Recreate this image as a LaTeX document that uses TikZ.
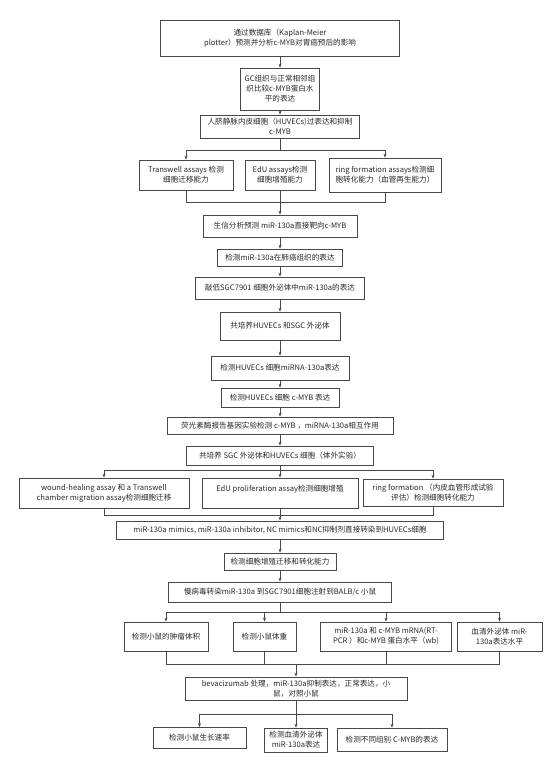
\documentclass[tikz,border=0pt]{standalone}
\usepackage{fontspec}
\setmainfont{Noto Sans CJK SC}
\usepackage{tikz}
\usetikzlibrary{arrows.meta,positioning,calc}
\definecolor{lnGray}{RGB}{72,72,72}
\definecolor{txtGray}{RGB}{40,40,40}

\begin{document}
\begin{tikzpicture}[x=1pt,y=-1pt,
  blk/.style={draw=lnGray,line width=0.7pt,inner sep=0pt,align=center,
              text=txtGray,font=\fontsize{7.6}{10}\selectfont},
  sz/.style 2 args={minimum width=#1pt,minimum height=#2pt},
  arr/.style={-{Stealth[length=4pt,width=3pt]},lnGray,line width=0.6pt},
  ln/.style={lnGray,line width=0.6pt},
]
\useasboundingbox (0,0) rectangle (554,764);
% upper column
\node[blk,sz={239}{36}] (kmp) at (280,38) {通过数据库（Kaplan-Meier\\plotter）预测并分析c-MYB对胃癌预后的影响};
\node[blk,sz={79}{42}] (gc) at (280,89) {GC组织与正常相邻组\\织比较c-MYB蛋白水\\平的表达};
\node[blk,sz={159}{23}] (huv) at (280,126.5) {人脐静脉内皮细胞（HUVECs)过表达和抑制\\c-MYB};
\node[blk,sz={94}{30}] (trans) at (186,175) {Transwell assays 检测\\细胞迁移能力};
\node[blk,sz={70}{30}] (edu) at (280,175) {EdU assays检测\\细胞增殖能力};
\node[blk,sz={112}{34}] (ring) at (385,175) {ring formation assays检测细\\胞转化能力（血管再生能力）};
\node[blk,sz={154}{22}] (bio) at (280,226) {生信分析预测 miR-130a直接靶向c-MYB};
\node[blk,sz={125}{17}] (det) at (280,257.5) {检测miR-130a在肺癌组织的表达};
\node[blk,sz={169}{22}] (knock) at (280,288) {敲低SGC7901 细胞外泌体中miR-130a的表达};
\node[blk,sz={120}{28}] (cocult) at (280,326) {共培养HUVECs 和SGC 外泌体};
\node[blk,sz={138}{24}] (mirna) at (280,368) {检测HUVECs 细胞miRNA-130a表达};
\node[blk,sz={118}{19}] (cmyb) at (280,397.5) {检测HUVECs 细胞 c-MYB 表达};
\node[blk,sz={226}{17}] (luc) at (280,425.5) {荧光素酶报告基因实验检测 c-MYB ，miRNA-130a相互作用};
% in vitro part
\node[blk,sz={187}{19}] (vitro) at (280,455.5) {共培养 SGC 外泌体和HUVECs 细胞（体外实验）};
\node[blk,sz={170}{30}] (wound) at (104,493) {wound-healing assay 和 a Transwell\\chamber migration assay检测细胞迁移};
\node[blk,sz={156}{30}] (edup) at (280,493) {EdU proliferation assay检测细胞增殖\\\mbox{}};
\node[blk,sz={140}{27}] (ringf) at (433,492.5) {ring formation （内皮血管形成试验\\评估）检测细胞转化能力};
\node[blk,sz={327}{18}] (mimic) at (280,530) {miR-130a mimics, miR-130a inhibitor, NC mimics和NC抑制剂直接转染到HUVECs细胞};
\node[blk,sz={112}{17}] (prolif) at (280,561.5) {检测细胞增殖迁移和转化能力};
\node[blk,sz={223}{20}] (lenti) at (280,592) {慢病毒转染miR-130a 到SGC7901细胞注射到BALB/c 小鼠};
% mice part
\node[blk,sz={84}{29}] (vol) at (166,636.5) {检测小鼠的肿瘤体积};
\node[blk,sz={63}{29}] (wt) at (264.5,636.5) {检测小鼠体重};
\node[blk,sz={131}{29}] (mrna) at (386,636.5) {miR-130a 和 c-MYB mRNA(RT-\\PCR ）和c-MYB 蛋白水平（wb)};
\node[blk,sz={85}{29}] (serum) at (499.5,636.5) {血清外泌体 miR-\\130a表达水平};
\node[blk,sz={222}{23}] (beva) at (296,688.5) {bevacizumab 处理，miR-130a抑制表达，正常表达，小\\鼠，对照小鼠};
\node[blk,sz={93}{21}] (rate) at (199.5,738) {检测小鼠生长速率};
\node[blk,sz={63}{24}] (serexo) at (296,740) {检测血清外泌体\\miR-130a表达};
\node[blk,sz={110}{23}] (diff) at (392,739.5) {检测不同组别 C-MYB的表达};
% branch and join points
\coordinate (br1) at (280,150);
\coordinate (jn1) at (280,202);
\coordinate (br2) at (280,470);
\coordinate (jn2) at (280,515);
\coordinate (br3) at (280,612);
\coordinate (jn3) at (296,664);
\coordinate (br4) at (296,714);
% straight arrows
\foreach \a/\b in {kmp/gc,gc/huv,bio/det,det/knock,knock/cocult,cocult/mirna,
                   mirna/cmyb,cmyb/luc,luc/vitro,mimic/prolif,prolif/lenti}
  \draw[arr] (\a) -- (\b);
% first fork
\draw[ln] (huv) -- (br1);
\draw[arr] (br1) -| (trans);
\draw[arr] (br1) -| (ring);
\draw[ln] (trans) |- (jn1);
\draw[ln] (ring) |- (jn1);
\draw[arr] (edu) -- (bio);
% second fork
\draw[arr] (br2) -| (wound);
\draw[arr] (br2) -| (ringf);
\draw[arr] (vitro) -- (edup);
\draw[ln] (wound) |- (jn2);
\draw[ln] (ringf) |- (jn2);
\draw[arr] (edup) -- (mimic);
% mice fork
\draw[ln] (lenti) -- (br3);
\foreach \n in {vol,wt,mrna,serum}
  \draw[arr] (br3) -| (\n);
\foreach \n in {vol,wt,mrna,serum}
  \draw[ln] (\n) |- (jn3);
\draw[arr] (jn3) -- (beva);
\draw[ln] (beva) -- (br4);
\draw[arr] (br4) -| (rate);
\draw[arr] (br4) -| (diff);
\draw[arr] (br4) -- (serexo);
\end{tikzpicture}
\end{document}
